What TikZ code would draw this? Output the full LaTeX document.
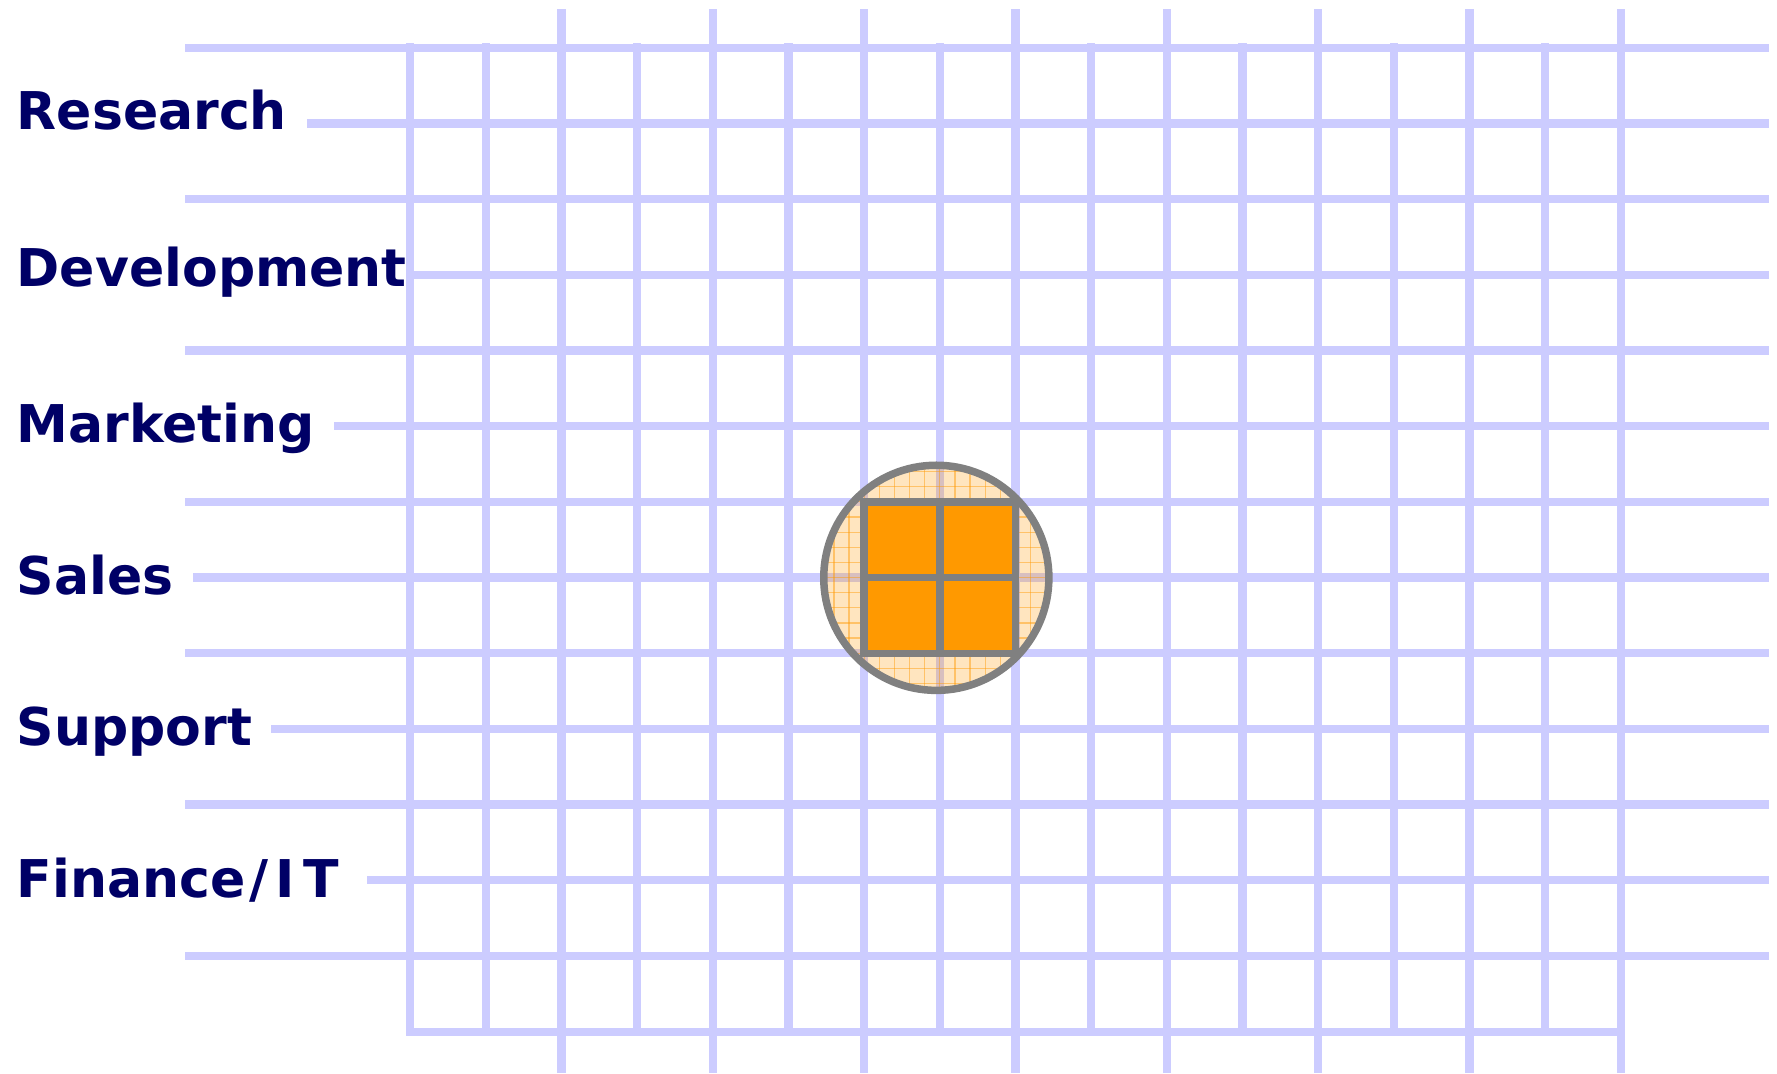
\documentclass[tikz,border=0pt]{standalone}
\usepackage{fontspec}
\setmainfont{DejaVu Sans}
\definecolor{gridblue}{HTML}{CCCCFF}
\definecolor{navyink}{HTML}{000066}
\definecolor{gborder}{HTML}{808080}
\definecolor{orng}{HTML}{FF9900}
\tikzset{
  gline/.style={draw=gridblue, line width=0.083cm},
  lbl/.style={anchor=base west, inner sep=0pt, text=navyink, font=\fontsize{14.8pt}{17pt}\selectfont\bfseries},
  glass/.style={draw=gborder, line width=0.075cm},
  fineline/.style={draw=orng, line width=0.35pt, opacity=0.45},
}
\begin{document}
\begin{tikzpicture}[x=0.01cm,y=-0.01cm]
\useasboundingbox (0,0) rectangle (1777,1073);
\fill[white] (0,0) rectangle (1777,1073);
% --- labels
\node[lbl] (research) at (16,129.3) {Research};
\node[lbl] (development) at (16,286.7) {Development};
\node[lbl] (marketing) at (16,442) {Marketing};
\node[lbl] (sales) at (16,594) {Sales};
\node[lbl] (support) at (16,745) {Support};
\node[lbl] (finance) at (16,897) {Finance\kern1.2pt/\kern2pt I\kern2.5pt T};
% --- horizontal grid lines (even rows, full length)
\foreach \k in {0,2,...,12}
  \draw[gline] (185,{47.7+75.69*\k}) -- (1769,{47.7+75.69*\k});
% --- horizontal grid lines on label rows
\foreach \k/\s in {1/307,3/406,5/334,7/193,9/271,11/367}
  \draw[gline] (\s,{47.7+75.69*\k}) -- (1769,{47.7+75.69*\k});
% --- bottom line
\draw[gline] (406,1031.7) -- (1625,1031.7);
% --- vertical lines
\foreach \i in {0,1,3,5,7,9,11,13,15}
  \draw[gline] ({410.2+75.66*\i},43.5) -- ({410.2+75.66*\i},1035.9);
\foreach \i in {2,4,...,16}
  \draw[gline] ({410.2+75.66*\i},9.3) -- ({410.2+75.66*\i},1073);
% --- magnifier circle
\fill[orng, opacity=0.25] (936.3,577.8) circle[radius=1.125cm];
\begin{scope}
  \clip (936.3,577.8) circle[radius=1.125cm];
  \foreach \j in {27,...,43} {
    \draw[fineline] ({410.2+15.132*\j},455) -- ({410.2+15.132*\j},700);
    \draw[fineline] (810,{47.7+15.138*\j}) -- (1060,{47.7+15.138*\j});
  }
\end{scope}
% --- selected block
\fill[orng] (864.2,502) rectangle (1015.5,653.3);
\draw[glass] (864.2,502) rectangle (1015.5,653.3);
\draw[glass] (939.9,502) -- (939.9,653.3);
\draw[glass] (864.2,577.5) -- (1015.5,577.5);
\draw[glass] (936.3,577.8) circle[radius=1.125cm];
\end{tikzpicture}
\end{document}
